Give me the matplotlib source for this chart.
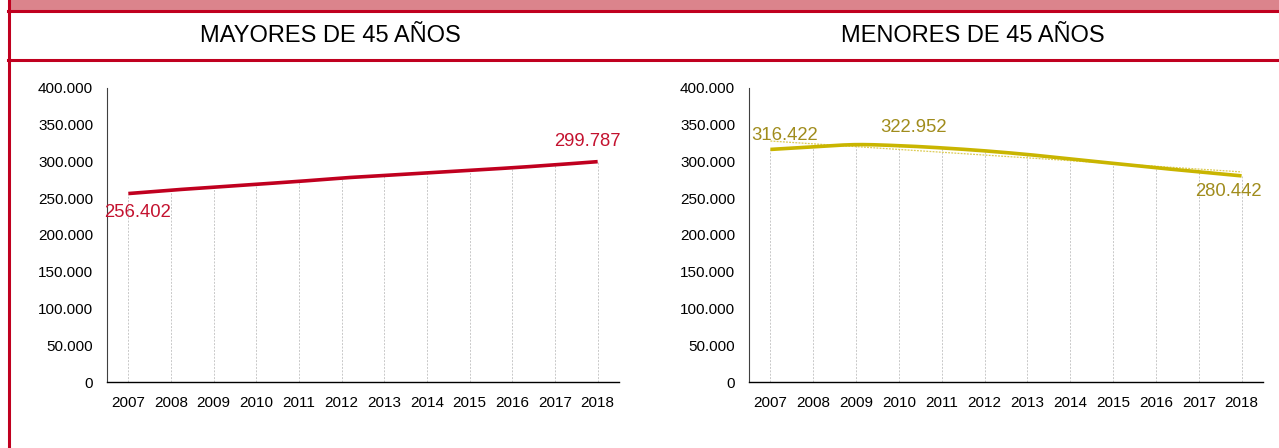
import matplotlib
matplotlib.use('Agg')
import matplotlib.pyplot as plt
import numpy as np
from matplotlib.ticker import FuncFormatter

plt.rcParams['font.family'] = ['Liberation Sans', 'DejaVu Sans']

years = [2007, 2008, 2009, 2010, 2011, 2012, 2013, 2014, 2015, 2016, 2017, 2018]
mayores = [256402, 261000, 265000, 269000, 273000, 277500, 281000, 284500, 288000, 291500, 295500, 299787]
menores = [316422, 320000, 322952, 321500, 318500, 314500, 309500, 303500, 297500, 291500, 286000, 280442]

titles = ['MAYORES DE 45 AÑOS', 'MENORES DE 45 AÑOS']
yticks = [0, 50000, 100000, 150000, 200000, 250000, 300000, 350000, 400000]

RED = '#C0001F'
RED_LBL = '#C4122F'
YEL = '#C9B500'
YEL_LBL = '#A08C1C'


def smooth(x, y, n=20):
    # Catmull-Rom curve through the points (like Excel's smoothed line)
    x = np.asarray(x, float)
    y = np.asarray(y, float)
    px = np.concatenate([[2 * x[0] - x[1]], x, [2 * x[-1] - x[-2]]])
    py = np.concatenate([[2 * y[0] - y[1]], y, [2 * y[-1] - y[-2]]])
    xs, ys = [], []
    t = np.linspace(0, 1, n, endpoint=False)
    for i in range(1, len(px) - 2):
        for arr, out in ((px, xs), (py, ys)):
            p0, p1, p2, p3 = arr[i - 1], arr[i], arr[i + 1], arr[i + 2]
            out.extend(0.5 * (2 * p1 + (-p0 + p2) * t
                              + (2 * p0 - 5 * p1 + 4 * p2 - p3) * t ** 2
                              + (-p0 + 3 * p1 - 3 * p2 + p3) * t ** 3))
    xs.append(x[-1])
    ys.append(y[-1])
    return np.array(xs), np.array(ys)


def fmt(v, pos=None):
    return f'{v:,.0f}'.replace(',', '.')


fig = plt.figure(figsize=(12.79, 4.48), dpi=100)

# frame decoration
fig.patches.append(plt.Rectangle((10 / 1279, 1 - 10 / 448), 1, 10 / 448,
                                 transform=fig.transFigure, color='#DB848C', zorder=0))
for yy in (11, 60):
    fig.add_artist(plt.Line2D([8 / 1279, 1], [1 - yy / 448] * 2,
                              transform=fig.transFigure, color=RED, lw=2.2))
fig.add_artist(plt.Line2D([8.7 / 1279] * 2, [0, 1],
                          transform=fig.transFigure, color=RED, lw=2.2))

fig.text(330 / 1279, 1 - 36 / 448, titles[0], ha='center', va='center', fontsize=17)
fig.text(973 / 1279, 1 - 36 / 448, titles[1], ha='center', va='center', fontsize=17)

ax1 = fig.add_axes([107 / 1279, 1 - 382 / 448, 512 / 1279, 294 / 448])
ax2 = fig.add_axes([749 / 1279, 1 - 382 / 448, 514 / 1279, 294 / 448])

x = np.arange(len(years))

for ax, vals, col in ((ax1, mayores, RED), (ax2, menores, YEL)):
    ax.set_xlim(-0.5, len(years) - 0.5)
    ax.set_ylim(0, 400000)
    ax.set_yticks(yticks)
    ax.yaxis.set_major_formatter(FuncFormatter(fmt))
    ax.set_xticks(x)
    ax.set_xticklabels([str(y) for y in years])
    ax.tick_params(length=0, labelsize=11, colors='black')
    ax.tick_params(axis='y', pad=10)
    ax.tick_params(axis='x', pad=10)
    for s in ('top', 'right'):
        ax.spines[s].set_visible(False)
    ax.spines['left'].set_color('#404040')
    ax.spines['left'].set_linewidth(0.8)
    ax.spines['bottom'].set_color('black')
    ax.spines['bottom'].set_linewidth(1.0)
    ax.vlines(x, 0, vals, colors='#C8C8C8', linestyles=(0, (2, 1.5)), lw=0.7, zorder=1)
    sx, sy = smooth(x, vals)
    ax.plot(sx, sy, color=col, lw=2.6, solid_capstyle='butt', zorder=3)

# linear trendline on the right chart
coef = np.polyfit(x, menores, 1)
ax2.plot([x[0], x[-1]], np.polyval(coef, [x[0], x[-1]]), color='#DCCB55',
         lw=0.9, linestyle=(0, (1.5, 1)), zorder=2)

lbl = dict(textcoords='offset pixels', ha='center', va='center', fontsize=13.3)
ax1.annotate(fmt(mayores[0]), (x[0], mayores[0]), xytext=(9, -19), color=RED_LBL, **lbl)
ax1.annotate(fmt(mayores[-1]), (x[-1], mayores[-1]), xytext=(-10, 20), color=RED_LBL, **lbl)
ax2.annotate(fmt(menores[0]), (x[0], menores[0]), xytext=(14, 14), color=YEL_LBL, **lbl)
ax2.annotate(fmt(menores[2]), (x[2], menores[2]), xytext=(57, 17), color=YEL_LBL, **lbl)
ax2.annotate(fmt(menores[-1]), (x[-1], menores[-1]), xytext=(-13, -16), color=YEL_LBL, **lbl)

fig.savefig('out.png', dpi=100)
